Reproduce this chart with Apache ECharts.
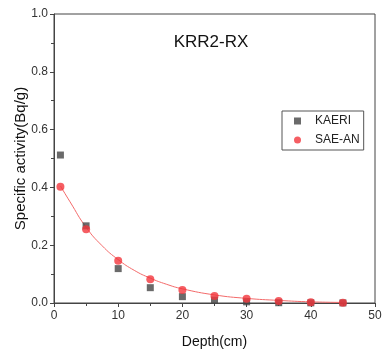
<!DOCTYPE html>
<html>
<head>
<meta charset="utf-8">
<script src="https://cdn.jsdelivr.net/npm/echarts@6/dist/echarts.min.js"></script>
<style>
  html, body { margin: 0; padding: 0; background: #fff; }
  #chart { width: 382px; height: 352px; }
</style>
</head>
<body>
<div id="chart"></div>
<script>
// depth (cm) of the sampled points
const depths = [1, 5, 10, 15, 20, 25, 30, 35, 40, 45];
// measured specific activity (Bq/g)
const kaeri = [0.512, 0.267, 0.119, 0.053, 0.022, 0.010, 0.004, 0.001, 0.0005, 0.0003];
const saeAn = [0.402, 0.255, 0.146, 0.082, 0.045, 0.024, 0.015, 0.007, 0.003, 0.001];
// fitted curve
const fitDepths = [1, 2.5, 5, 7.5, 10, 12.5, 15, 17.5, 20, 25, 30, 35, 40, 45];
const fitValues = [0.405, 0.35, 0.262, 0.198, 0.150, 0.113, 0.086, 0.065, 0.049, 0.028, 0.016, 0.009, 0.004, 0.002];
const xTicks = [0, 10, 20, 30, 40, 50];
const yTicks = [0.0, 0.2, 0.4, 0.6, 0.8, 1.0];

const zip = (xs, ys) => xs.map((x, i) => [x, ys[i]]);

const chart = echarts.init(document.getElementById("chart"));
chart.setOption({
  animation: false,
  textStyle: { fontFamily: "Liberation Sans, Arial, sans-serif" },
  title: {
    text: "KRR2-RX",
    left: 206,
    top: 29,
    textAlign: "center",
    textStyle: { fontSize: 17, fontWeight: "normal", color: "#111" },
  },
  legend: {
    data: [
      { name: "KAERI", icon: "rect" },
      { name: "SAE-AN", icon: "circle" },
    ],
    orient: "vertical",
    left: 282,
    top: 111,
    itemWidth: 7,
    itemHeight: 7,
    itemGap: 7,
    padding: [4, 4, 4, 12],
    borderColor: "#555",
    borderWidth: 1,
    textStyle: { fontSize: 12, color: "#222", padding: [0, 0, 0, 9] },
  },
  grid: {
    left: 54,
    right: 7,
    top: 14,
    bottom: 49,
    outerBoundsMode: "none",
    show: true,
    borderColor: "#444",
    borderWidth: 1,
  },
  xAxis: {
    type: "value",
    min: xTicks[0],
    max: xTicks[xTicks.length - 1],
    interval: 10,
    name: "Depth(cm)",
    nameLocation: "middle",
    nameGap: 32,
    nameMoveOverlap: false,
    nameTextStyle: { fontSize: 14, color: "#111" },
    axisLine: { lineStyle: { color: "#444", width: 1 } },
    axisTick: { inside: false, length: 4 },
    minorTick: { show: true, splitNumber: 2, length: 3, lineStyle: { color: "#444" } },
    axisLabel: { fontSize: 12, color: "#333", margin: 7 },
    splitLine: { show: false },
  },
  yAxis: {
    type: "value",
    min: yTicks[0],
    max: yTicks[yTicks.length - 1],
    interval: 0.2,
    name: "Specific activity(Bq/g)",
    nameLocation: "middle",
    nameGap: 26,
    nameMoveOverlap: false,
    nameTextStyle: { fontSize: 15, color: "#111" },
    axisLine: { show: true, lineStyle: { color: "#444", width: 1 } },
    axisTick: { show: true, inside: false, length: 4 },
    minorTick: { show: true, splitNumber: 2, length: 3, lineStyle: { color: "#444" } },
    axisLabel: { fontSize: 12, color: "#333", margin: 6, formatter: (v) => v.toFixed(1) },
    splitLine: { show: false },
  },
  series: [
    {
      name: "fit",
      type: "line",
      data: zip(fitDepths, fitValues),
      smooth: true,
      showSymbol: false,
      lineStyle: { color: "#f36a6a", width: 1 },
      z: 1,
    },
    {
      name: "KAERI",
      type: "scatter",
      data: zip(depths, kaeri),
      symbol: "rect",
      symbolSize: 7,
      itemStyle: { color: "#454545" },
      z: 2,
    },
    {
      name: "SAE-AN",
      type: "scatter",
      data: zip(depths, saeAn),
      symbol: "circle",
      symbolSize: 8,
      itemStyle: { color: "#f2363c" },
      z: 3,
    },
  ],
});
</script>
</body>
</html>
